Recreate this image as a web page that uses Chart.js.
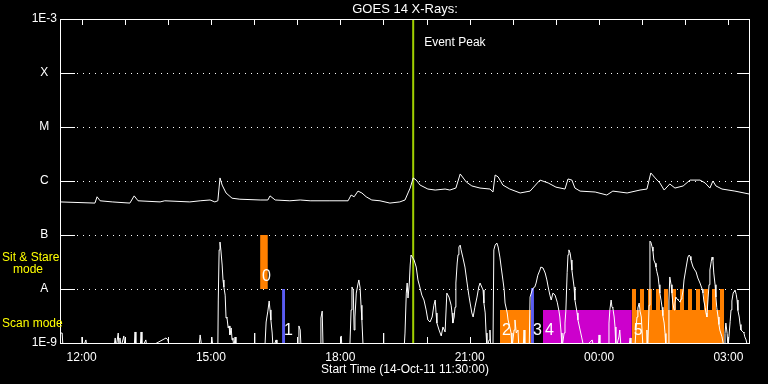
<!DOCTYPE html>
<html><head><meta charset="utf-8">
<script src="https://cdn.jsdelivr.net/npm/chart.js@4.4.0/dist/chart.umd.min.js"></script>
<style>html,body{margin:0;padding:0;background:#000;}canvas{display:block;}</style>
</head><body>
<canvas id="c" width="768" height="384"></canvas>
<script>
// time axis: hours after start (14-Oct-11 11:30:00)
const startHour = 11.5;
const B = 8e-10; // below 1E-9 (off scale)

const upperTime = [0.00,0.81,0.86,0.93,1.21,1.62,1.72,1.81,2.32,2.43,3.01,3.25,3.48,3.59,3.66,3.71,3.76,3.85,3.99,4.17,4.64,4.82,4.87,4.99,5.33,5.57,5.80,6.26,6.68,6.75,6.82,6.91,7.00,7.10,7.23,7.42,7.65,7.88,8.00,8.07,8.12,8.19,8.26,8.35,8.53,8.70,8.93,9.04,9.18,9.28,9.42,9.55,9.74,9.97,10.04,10.09,10.16,10.27,10.43,10.67,10.90,11.13,11.32,11.50,11.71,11.78,11.87,11.94,12.06,12.41,12.68,12.82,13.15,13.45,13.61,13.70,13.80,13.91,14.01,14.14,14.26,14.45,14.61,14.84,14.96,15.07,15.14,15.21,15.35,15.65,16.00];
const upperFlux = [4.1e-7,3.9e-7,5.1e-7,4.3e-7,4.1e-7,3.9e-7,5.3e-7,4.3e-7,4.1e-7,4.3e-7,4.1e-7,4.3e-7,4.45e-7,4.1e-7,4.3e-7,1.14e-6,8.4e-7,6.0e-7,4.8e-7,4.6e-7,4.45e-7,4.45e-7,5.3e-7,4.45e-7,4.3e-7,4.45e-7,4.3e-7,4.3e-7,4.3e-7,5.5e-7,5.1e-7,6.5e-7,6.0e-7,5.1e-7,4.45e-7,4.3e-7,3.9e-7,4.1e-7,4.45e-7,6.0e-7,7.4e-7,1.14e-6,1.04e-6,8.4e-7,7.1e-7,6.8e-7,7.1e-7,6.8e-7,7.4e-7,1.35e-6,9.6e-7,8.1e-7,7.4e-7,7.1e-7,6.25e-7,1.29e-6,1.19e-6,8.4e-7,7.1e-7,6.0e-7,6.5e-7,1.04e-6,9.2e-7,7.7e-7,7.1e-7,1.09e-6,1.04e-6,7.4e-7,6.5e-7,6.25e-7,5.5e-7,6.5e-7,6.0e-7,6.8e-7,7.1e-7,1.41e-6,1.14e-6,9.2e-7,6.8e-7,8.8e-7,7.4e-7,8.1e-7,1.04e-6,1.04e-6,9.2e-7,7.4e-7,1.0e-6,8.1e-7,7.1e-7,6.5e-7,5.7e-7];

// [hours, flux] pairs of the short-wavelength trace
const lowerTrace = [
[0.00,1.53e-9],[0.05,1.53e-9],[0.07,B],[0.49,B],[0.51,1.29e-9],[0.53,B],[0.60,1.14e-9],[0.63,B],
[1.25,B],[1.28,1.24e-9],[1.30,B],[1.35,1.53e-9],[1.37,B],[1.39,1.24e-9],[1.41,B],[1.48,1.35e-9],[1.51,B],
[1.72,B],[1.74,1.6e-9],[1.76,B],[1.86,B],[1.88,1.6e-9],[1.90,B],[1.99,1.14e-9],[2.02,B],
[2.46,1.24e-9],[2.50,1.14e-9],[2.55,B],[3.22,B],[3.25,1.41e-9],[3.29,B],[3.50,B],[3.52,1.29e-9],[3.55,B],
[3.66,B],[3.67,6.25e-9],[3.69,5.3e-8],[3.71,7.4e-8],[3.73,5.3e-8],[3.76,2.78e-8],[3.78,1.47e-8],[3.80,1.09e-8],
[3.83,7.7e-9],[3.85,2.9e-9],[3.87,3.03e-9],[3.90,1.9e-9],[3.92,2.07e-9],[3.94,1.41e-9],[3.97,1.9e-9],[3.99,1.14e-9],
[4.01,1.24e-9],[4.03,B],[4.06,1.29e-9],[4.08,B],[4.50,B],[4.51,1.53e-9],[4.52,B],
[4.75,B],[4.78,2.45e-9],[4.82,3.9e-9],[4.85,6.0e-9],[4.87,4.1e-9],[4.89,2.67e-9],[4.92,1.53e-9],[4.94,B],
[5.01,1.14e-9],[5.03,B],[5.52,B],[5.54,2.07e-9],[5.57,1.74e-9],[5.59,B],[6.03,B],[6.05,2.9e-9],[6.08,3.9e-9],[6.10,B],
[6.49,B],[6.52,1.35e-9],[6.54,B],[6.72,B],[6.75,4.1e-9],[6.77,1.09e-8],[6.80,9.6e-9],[6.82,1.74e-9],[6.84,3.03e-9],
[6.87,8.4e-9],[6.91,1.24e-8],[6.93,1.47e-8],[6.96,1.04e-8],[6.98,5.0e-9],[7.00,2.67e-9],[7.03,B],
[7.49,B],[7.50,1.53e-9],[7.51,B],[7.98,B],[8.00,1.53e-9],[8.03,8.4e-9],[8.05,1.29e-8],[8.07,6.8e-9],[8.10,1.29e-8],
[8.12,2.78e-8],[8.14,4.26e-8],[8.17,3.9e-8],[8.21,3.44e-8],[8.26,2.55e-8],[8.30,1.47e-8],[8.35,1.04e-8],[8.39,7.7e-9],
[8.44,6.25e-9],[8.49,4.1e-9],[8.53,2.67e-9],[8.58,2.45e-9],[8.63,3.03e-9],[8.67,5.0e-9],[8.70,6.25e-9],[8.72,3.6e-9],
[8.74,2.34e-9],[8.79,1.74e-9],[8.84,1.35e-9],[8.88,1.98e-9],[8.93,1.6e-9],[8.97,8.4e-9],[9.02,7.1e-9],[9.07,5.0e-9],
[9.09,3.6e-9],[9.11,2.34e-9],[9.14,3.03e-9],[9.16,4.6e-9],[9.18,1.29e-8],[9.21,3.03e-8],[9.23,4.3e-8],[9.25,6.0e-8],
[9.28,6.5e-8],[9.30,5.3e-8],[9.34,3.9e-8],[9.39,2.55e-8],[9.44,1.29e-8],[9.48,7.7e-9],[9.51,5.5e-9],[9.55,3.6e-9],
[9.58,3.03e-9],[9.62,4.6e-9],[9.67,7.1e-9],[9.71,1.09e-8],[9.74,1.29e-8],[9.79,1.04e-8],[9.81,9.6e-9],[9.83,5.5e-9],
[9.86,3.6e-9],[9.88,1.53e-9],[9.90,B],[9.95,1.14e-9],[9.97,1.74e-9],[9.99,B],[10.04,B],[10.06,5.3e-8],[10.09,6.5e-8],
[10.13,7.1e-8],[10.16,6.0e-8],[10.20,3.9e-8],[10.23,2.55e-8],[10.27,1.47e-8],[10.30,9.6e-9],[10.32,5.5e-9],[10.37,3.6e-9],
[10.39,2.67e-9],[10.43,1.98e-9],[10.46,1.53e-9],[10.48,B],[10.53,1.74e-9],[10.55,2.67e-9],[10.58,1.53e-9],[10.62,1.74e-9],
[10.64,B],[10.74,B],[10.76,1.74e-9],[10.78,B],[10.88,B],[10.90,7.1e-9],[10.95,9.6e-9],[10.97,1.04e-8],[11.01,1.09e-8],
[11.04,1.29e-8],[11.08,1.8e-8],[11.13,2.25e-8],[11.15,2.55e-8],[11.20,2.45e-8],[11.25,1.98e-8],[11.29,1.47e-8],[11.32,1.09e-8],
[11.36,7.7e-9],[11.39,6.25e-9],[11.43,8.4e-9],[11.48,7.7e-9],[11.53,5.7e-9],[11.57,3.9e-9],[11.59,3.03e-9],[11.62,1.53e-9],
[11.64,B],[11.69,1.53e-9],[11.71,2.34e-9],[11.73,3.9e-9],[11.76,2.0e-8],[11.78,4.3e-8],[11.80,5.3e-8],[11.83,4.6e-8],
[11.85,3.44e-8],[11.87,2.25e-8],[11.92,1.09e-8],[11.94,6.25e-9],[11.99,3.6e-9],[12.01,2.67e-9],[12.06,1.74e-9],[12.10,1.24e-9],
[12.15,B],[12.34,1.14e-9],[12.38,B],[12.48,B],[12.50,1.41e-9],[12.52,B],[12.71,B],[12.73,2.34e-9],[12.75,4.1e-9],
[12.78,6.25e-9],[12.80,4.6e-9],[12.82,4.45e-9],[12.85,3.03e-9],[12.87,1.98e-9],[12.89,B],[12.96,1.29e-9],[12.98,1.74e-9],
[13.01,B],[13.19,B],[13.22,1.24e-9],[13.24,B],[13.33,B],[13.36,1.98e-9],[13.38,3.03e-9],[13.40,4.45e-9],[13.43,5.5e-9],
[13.45,3.9e-9],[13.48,3.03e-9],[13.50,1.53e-9],[13.52,B],[13.59,B],[13.61,1.74e-9],[13.63,B],[13.66,5.0e-9],[13.68,7.7e-8],
[13.70,7.4e-8],[13.73,6.0e-8],[13.75,5.0e-8],[13.77,3.44e-8],[13.80,3.0e-8],[13.82,2.55e-8],[13.84,2.1e-8],[13.87,1.67e-8],
[13.89,1.2e-8],[13.91,8.4e-9],[13.94,6.0e-9],[13.96,4.6e-9],[13.98,3.2e-9],[14.01,2.34e-9],[14.03,1.5e-9],[14.05,B],
[14.10,B],[14.12,6.0e-9],[14.14,1.67e-8],[14.17,1.2e-8],[14.19,8.4e-9],[14.21,5.5e-9],[14.24,4.1e-9],[14.26,5.5e-9],
[14.28,7.1e-9],[14.31,6.5e-9],[14.33,6.25e-9],[14.35,6.0e-9],[14.38,5.7e-9],[14.40,6.5e-9],[14.42,7.1e-9],[14.45,9.6e-9],
[14.47,1.47e-8],[14.52,2.55e-8],[14.56,3.9e-8],[14.59,4.26e-8],[14.61,4.0e-8],[14.63,3.44e-8],[14.68,2.55e-8],[14.72,2.25e-8],
[14.75,2.07e-8],[14.79,1.6e-8],[14.84,1.29e-8],[14.89,1.0e-8],[14.91,8.4e-9],[14.93,6.0e-9],[14.96,4.6e-9],[14.98,3.6e-9],
[15.00,3.03e-9],[15.03,7.1e-9],[15.05,1.2e-8],[15.07,2.25e-8],[15.10,3.2e-8],[15.12,3.9e-8],[15.14,3.5e-8],[15.16,1.98e-8],
[15.19,1.2e-8],[15.21,7.1e-9],[15.23,4.5e-9],[15.26,3.03e-9],[15.28,2.2e-9],[15.30,1.74e-9],[15.35,1.3e-9],[15.40,B],
[15.42,1.5e-9],[15.44,2.34e-9],[15.47,1.5e-9],[15.49,B],[15.54,2.5e-9],[15.56,4.1e-9],[15.58,6.0e-9],[15.61,8.4e-9],
[15.63,9.0e-9],[15.65,9.6e-9],[15.68,8.0e-9],[15.70,6.25e-9],[15.72,4.0e-9],[15.75,3.03e-9],[15.77,2.2e-9],[15.79,1.74e-9],
[15.84,1.6e-9],[15.86,1.53e-9],[15.88,1.3e-9],[15.91,1.14e-9],[15.95,B],[16.00,B]
];

// observing-mode intervals
const modeLabels = ['0','1','2','3','4','5'];
const modeStart  = [4.64, 5.15, 10.20, 10.92, 11.20, 13.26];
const modeEnd    = [4.82, 5.22, 10.92, 10.99, 13.26, 15.40];
const modeLow    = [1e-8, 1e-9, 1e-9, 1e-9, 1e-9, 1e-9];
const modeHigh   = [1e-7, 1e-8, 4.1e-9, 1.04e-8, 4.1e-9, 1e-8];
const modeColor  = ['#ff8000','#5a5cf2','#ff8000','#5a5cf2','#cc00cc','#ff8000'];
// short scan-level gaps inside mode 5
const notchStart = [13.357,13.542,13.728,13.913,14.099,14.284,14.470,14.655,14.841,15.026,15.212];
const notchEnd   = [13.449,13.635,13.820,14.006,14.191,14.377,14.562,14.748,14.933,15.119,15.304];
const notchFlux  = 4.1e-9;

const eventPeak = 8.19;
const yClassExp = [-9,-8,-7,-6,-5,-4,-3];
const yClassLabels = ['1E-9','A','B','C','M','X','1E-3'];
const hourTicks = [0.5,1.5,2.5,3.5,4.5,5.5,6.5,7.5,8.5,9.5,10.5,11.5,12.5,13.5,14.5,15.5];
const labelTicks = [0.5,3.5,6.5,9.5,12.5,15.5];

function fmtHour(v){
  const t = startHour + v;
  const h = Math.floor(t) % 24;
  const m = Math.round((t - Math.floor(t)) * 60);
  return String(h).padStart(2,'0') + ':' + String(m).padStart(2,'0');
}

const datasets = [];
datasets.push({ data: upperTime.map((t,i)=>({x:t,y:upperFlux[i]})), borderColor:'#ffffff', borderWidth:1, pointRadius:0, tension:0, fill:false, order:0 });
datasets.push({ data: lowerTrace.map(p=>({x:p[0],y:p[1]})), borderColor:'#ffffff', borderWidth:1, pointRadius:0, tension:0, fill:false, order:0 });
datasets.push({ data: [{x:eventPeak,y:1e-3},{x:eventPeak,y:1e-9}], borderColor:'#a0d000', borderWidth:2, pointRadius:0, fill:false, order:1 });
for (let i=0;i<modeLabels.length;i++){
  let pts = [{x:modeStart[i], y:modeHigh[i]}];
  if (i === 5) {
    for (let k=0;k<notchStart.length;k++){
      pts.push({x:notchStart[k], y:notchFlux});
      pts.push({x:notchEnd[k], y:modeHigh[i]});
    }
  }
  pts.push({x:modeEnd[i], y:modeHigh[i]});
  datasets.push({ data: pts, stepped: true, borderColor:'rgba(0,0,0,0)', borderWidth:0, pointRadius:0,
    backgroundColor: modeColor[i], fill: {value: modeLow[i]}, order: 2 });
}

const FONT = 'Liberation Sans';
const deco = {
  id:'deco',
  beforeDatasetsDraw(chart){
    const {ctx, chartArea:a, scales:{x,y}} = chart;
    ctx.save();
    ctx.strokeStyle='#ffffff'; ctx.lineWidth=1;
    for (const e of yClassExp){
      if (e===-9 || e===-3) continue;
      const py = Math.round(y.getPixelForValue(Math.pow(10,e))) + 0.5;
      ctx.setLineDash([]);
      ctx.beginPath();
      ctx.moveTo(a.left, py); ctx.lineTo(a.left+15, py);
      ctx.moveTo(a.right-13, py); ctx.lineTo(a.right, py);
      ctx.stroke();
      ctx.setLineDash([1,5]);
      ctx.beginPath(); ctx.moveTo(a.left+17, py); ctx.lineTo(a.right-14, py); ctx.stroke();
    }
    ctx.setLineDash([]);
    for (const h of hourTicks){
      const px = Math.round(x.getPixelForValue(h)) + 0.5;
      ctx.beginPath();
      ctx.moveTo(px, a.top); ctx.lineTo(px, a.top+6);
      ctx.moveTo(px, a.bottom); ctx.lineTo(px, a.bottom-6);
      ctx.stroke();
    }
    ctx.restore();
  },
  afterDatasetsDraw(chart){
    const {ctx, chartArea:a, scales:{x,y}} = chart;
    ctx.save();
    ctx.strokeStyle='#ffffff'; ctx.lineWidth=1;
    ctx.strokeRect(a.left+0.5, a.top+0.5, a.right-a.left-1, a.bottom-a.top);
    // title
    ctx.fillStyle='#ffffff';
    ctx.font = '13px "'+FONT+'"';
    ctx.textAlign='center'; ctx.textBaseline='middle';
    ctx.fillText('GOES 14 X-Rays:', (a.left+a.right)/2, 9);
    // event peak
    ctx.font = '12px "'+FONT+'"';
    ctx.textAlign='left';
    ctx.fillText('Event Peak', x.getPixelForValue(eventPeak)+11, a.top+24);
    // mode labels
    ctx.font = '16px "'+FONT+'"';
    for (let i=0;i<modeLabels.length;i++){
      const px = x.getPixelForValue(modeStart[i]) + 2;
      const py = y.getPixelForValue(modeLow[i]) - 12;
      ctx.fillText(modeLabels[i], px, py);
    }
    // mode annotations (yellow)
    ctx.fillStyle='#ffff00';
    ctx.font = '12px "'+FONT+'"';
    const pA = y.getPixelForValue(1e-8), p9 = y.getPixelForValue(1e-9);
    ctx.textAlign='left';
    ctx.fillText('Sit & Stare', 2, pA-31);
    ctx.fillText('mode', 13, pA-19);
    ctx.fillText('Scan mode', 2, p9-19);
    ctx.restore();
  }
};

new Chart(document.getElementById('c'), {
  type:'line',
  data:{ datasets },
  options:{
    responsive:false, animation:false, devicePixelRatio:1,
    layout:{ padding:{ top:19, right:18, left:0, bottom:0 } },
    plugins:{ legend:{display:false}, tooltip:{enabled:false}, title:{display:false} },
    scales:{
      x:{ type:'linear', min:0, max:16, position:'bottom',
        afterBuildTicks: s => { s.ticks = labelTicks.map(v=>({value:v})); },
        afterFit: s => { s.height = 41; },
        grid:{display:false, drawTicks:false}, border:{display:false},
        ticks:{ color:'#ffffff', font:{family:FONT, size:12}, padding:7, maxRotation:0, autoSkip:false, callback: v => fmtHour(v) },
        title:{ display:true, text:'Start Time (14-Oct-11 11:30:00)', color:'#ffffff', font:{family:FONT, size:12}, padding:{top:0, bottom:7} } },
      y:{ type:'logarithmic', min:1e-9, max:1e-3, position:'left',
        afterBuildTicks: s => { s.ticks = yClassExp.map(e=>({value:Math.pow(10,e)})); },
        afterFit: s => { s.width = 60; },
        grid:{display:false, drawTicks:false}, border:{display:false},
        ticks:{ color:'#ffffff', font:{family:FONT, size:12}, padding:3, crossAlign:'center', autoSkip:false,
          callback: v => yClassLabels[yClassExp.indexOf(Math.round(Math.log10(v)))] } }
    }
  },
  plugins:[deco]
});
</script>
</body></html>
